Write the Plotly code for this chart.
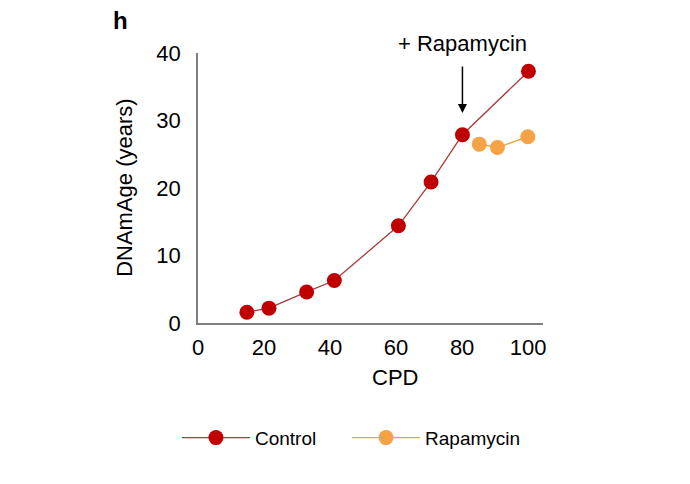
import plotly.graph_objects as go

control_cpd = [14.8, 21.5, 32.9, 41.3, 60.7, 70.6, 80.1, 100.1]
control_age = [1.6, 2.2, 4.6, 6.3, 14.4, 20.9, 27.9, 37.3]
rapa_cpd = [85.2, 90.7, 99.9]
rapa_age = [26.5, 26.0, 27.6]
x_ticks = [0, 20, 40, 60, 80, 100]
y_ticks = [0, 10, 20, 30, 40]

FONT = "Liberation Sans, Arial, Helvetica, sans-serif"

fig = go.Figure()
fig.add_trace(go.Scatter(
    x=control_cpd, y=control_age, mode="lines+markers", name="Control",
    line=dict(color="#A83A3A", width=1.3),
    marker=dict(color="#C00000", size=15, line=dict(width=0)),
    cliponaxis=False, legend="legend",
))
fig.add_trace(go.Scatter(
    x=rapa_cpd, y=rapa_age, mode="lines+markers", name="Rapamycin",
    line=dict(color="#E8A63C", width=1.3),
    marker=dict(color="#F5A345", size=15, line=dict(width=0)),
    cliponaxis=False, legend="legend2",
))

leg_common = dict(orientation="h", xanchor="left", y=-0.425, yanchor="middle",
                  font=dict(size=19), itemwidth=68, tracegroupgap=0,
                  bgcolor="rgba(0,0,0,0)")

fig.update_layout(
    width=690, height=484,
    margin=dict(l=198, r=147, t=53, b=161),
    paper_bgcolor="white", plot_bgcolor="white",
    font=dict(family=FONT, color="black", size=21),
    showlegend=True,
    legend=dict(x=-0.061, **leg_common),
    legend2=dict(x=0.432, **leg_common),
    xaxis=dict(range=[0, 104.5], tickvals=x_ticks, showgrid=False, zeroline=False,
               showline=True, linecolor="#808080", linewidth=1.5, ticks="",
               ticklabelstandoff=4, tickfont=dict(size=22)),
    yaxis=dict(range=[0, 40], tickvals=y_ticks, showgrid=False, zeroline=False,
               showline=True, linecolor="#808080", linewidth=1.5, ticks="",
               ticklabelstandoff=11, tickfont=dict(size=22)),
    annotations=[
        dict(text="<b>h</b>", xref="paper", yref="paper", x=-0.225, y=1.12,
             xanchor="center", yanchor="middle", showarrow=False, font=dict(size=24)),
        dict(text="CPD", xref="paper", yref="paper", x=0.57, y=-0.2,
             xanchor="center", yanchor="middle", showarrow=False, font=dict(size=22)),
        dict(text="DNAmAge (years)", xref="paper", yref="paper", x=-0.215, y=0.5,
             xanchor="center", yanchor="middle", textangle=-90, showarrow=False,
             font=dict(size=22)),
        dict(text="+ Rapamycin", x=80.1, y=1.037, xref="x", yref="paper",
             xanchor="center", yanchor="middle", showarrow=False,
             font=dict(size=22)),
        dict(x=80.1, y=31.1, xref="x", yref="y", ax=0, ay=-48, text="",
             showarrow=True, arrowhead=2, arrowsize=1.2, arrowwidth=1.5,
             arrowcolor="black"),
    ],
)

fig.write_html("out.html")
